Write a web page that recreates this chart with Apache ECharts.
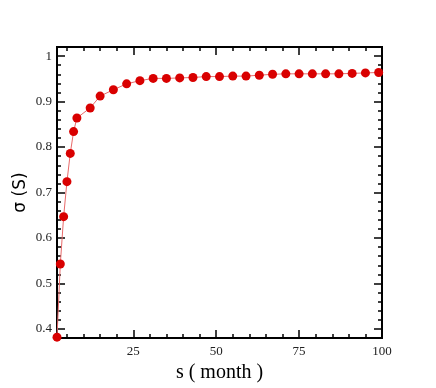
<!DOCTYPE html>
<html>
<head>
<meta charset="utf-8">
<script src="https://cdn.jsdelivr.net/npm/echarts@6/dist/echarts.min.js"></script>
<style>
  html, body { margin: 0; padding: 0; background: #fff; }
  #chart { width: 436px; height: 388px; }
</style>
</head>
<body>
<div id="chart"></div>
<script>
// data
var sValues = [2, 3, 4, 5, 6, 7, 8, 12, 15, 19, 23, 27, 31, 35, 39, 43, 47, 51, 55, 59, 63, 67, 71, 75, 79, 83, 87, 91, 95, 99];
var sigmaValues = [0.382, 0.543, 0.647, 0.724, 0.786, 0.834, 0.864, 0.886, 0.912, 0.926, 0.939, 0.946, 0.951, 0.951, 0.952, 0.953, 0.955, 0.955, 0.956, 0.956, 0.958, 0.960, 0.961, 0.961, 0.961, 0.961, 0.961, 0.962, 0.963, 0.964];

var xMajorTicks = [25, 50, 75, 100];
var xMinorTicks = [5, 10, 15, 20, 30, 35, 40, 45, 55, 60, 65, 70, 80, 85, 90, 95];
var yMajorTicks = [0.4, 0.5, 0.6, 0.7, 0.8, 0.9, 1];
var yMinorTicks = [0.42, 0.44, 0.46, 0.48, 0.52, 0.54, 0.56, 0.58, 0.62, 0.64, 0.66, 0.68,
                   0.72, 0.74, 0.76, 0.78, 0.82, 0.84, 0.86, 0.88, 0.92, 0.94, 0.96, 0.98, 1.02];

var xMin = 2, xMax = 100, yMin = 0.38, yMax = 1.02;

var myChart = echarts.init(document.getElementById('chart'));

function xAx(pos, ticks, len, withLabel) {
  return {
    type: 'value', position: pos, min: xMin, max: xMax,
    axisLine: { show: true, onZero: false, lineStyle: { color: '#000', width: 2 } },
    axisTick: { show: true, inside: true, length: len, customValues: ticks, lineStyle: { color: '#000', width: 1.5 } },
    axisLabel: withLabel ? {
      show: true, customValues: ticks, margin: 7,
      fontFamily: 'Liberation Serif', fontSize: 13, color: '#222'
    } : { show: false },
    splitLine: { show: false }
  };
}
function yAx(pos, ticks, len, withLabel) {
  return {
    type: 'value', position: pos, min: yMin, max: yMax,
    axisLine: { show: true, onZero: false, lineStyle: { color: '#000', width: 2 } },
    axisTick: { show: true, inside: true, length: len, customValues: ticks, lineStyle: { color: '#000', width: 1.5 } },
    axisLabel: withLabel ? {
      show: true, customValues: ticks, margin: 5,
      fontFamily: 'Liberation Serif', fontSize: 13, color: '#222'
    } : { show: false },
    splitLine: { show: false }
  };
}

var xMain = xAx('bottom', xMajorTicks, 8, true);
xMain.name = 's ( month )';
xMain.nameLocation = 'middle';
xMain.nameGap = 19;
xMain.nameTextStyle = { fontFamily: 'Liberation Serif', fontSize: 20, color: '#000' };

var yMain = yAx('left', yMajorTicks, 8, true);
yMain.name = 'σ (S)';
yMain.nameLocation = 'middle';
yMain.nameRotate = 90;
yMain.nameGap = 28;
yMain.nameMoveOverlap = false;
yMain.nameTextStyle = { fontFamily: 'DejaVu Sans', fontSize: 17, color: '#000' };

var option = {
  animation: false,
  backgroundColor: '#fff',
  grid: { left: 57, right: 54, top: 47, bottom: 44 },
  xAxis: [
    xMain,
    xAx('bottom', xMinorTicks, 4, false),
    xAx('top', xMajorTicks, 8, false),
    xAx('top', xMinorTicks, 4, false)
  ],
  yAxis: [
    yMain,
    yAx('left', yMinorTicks, 4, false),
    yAx('right', yMajorTicks, 8, false),
    yAx('right', yMinorTicks, 4, false)
  ],
  series: [
    {
      type: 'line',
      xAxisIndex: 0,
      yAxisIndex: 0,
      data: sValues.map(function (s, i) { return [s, sigmaValues[i]]; }),
      symbol: 'circle',
      symbolSize: 9,
      clip: false,
      itemStyle: { color: '#d90000' },
      lineStyle: { color: '#e86a6a', width: 1 }
    }
  ]
};
myChart.setOption(option);
</script>
</body>
</html>
